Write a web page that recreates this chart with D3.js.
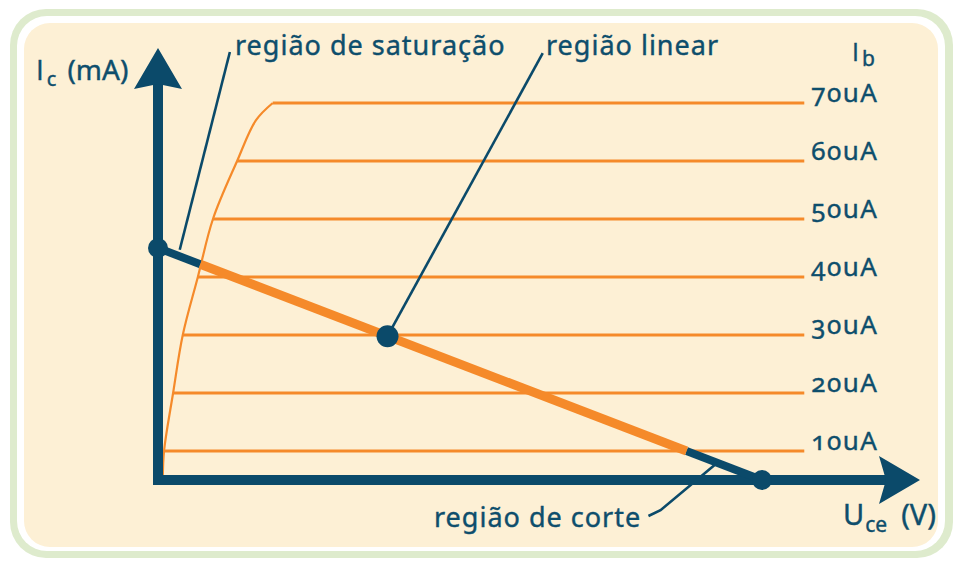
<!DOCTYPE html>
<html>
<head>
<meta charset="utf-8">
<script src="https://cdn.jsdelivr.net/npm/d3@7/dist/d3.min.js"></script>
<style>
  html, body { margin: 0; padding: 0; background: #ffffff; }
  svg { display: block; }
  text { font-family: "Noto Sans", "Open Sans", sans-serif; fill: #0e4e6c; stroke: #0e4e6c; stroke-width: 0.4px; font-variant-numeric: oldstyle-nums; font-feature-settings: "onum" 1; }
  .cap { font-family: "Open Sans", "Noto Sans", sans-serif; }
</style>
</head>
<body>
<script>
// ---- data ----
const ibLabels = ["10uA", "20uA", "30uA", "40uA", "50uA", "60uA", "70uA"];
const icLevels = [0.5, 1.5, 2.5, 3.5, 4.5, 5.5, 6.5];          // mA
const kneeUce  = [0.10, 0.25, 0.41, 0.66, 0.91, 1.31, 1.90];   // V, where each Ib curve flattens
const lineEndUce = 10.7;                                        // V
// saturation envelope (Uce V, Ic mA)
const envelope = [[0.08, 0.05], [0.10, 0.5], [0.25, 1.5], [0.41, 2.5], [0.66, 3.5],
                  [0.91, 4.5], [1.31, 5.5], [1.62, 6.2], [1.90, 6.5]];
// load line
const vcc = 10;          // V  (cut-off point)
const icSat = 4;         // mA (saturation point)
const loadDarkEnd = 0.7; // V, end of dark saturation part
const loadOrangeEnd = 8.75; // V, end of orange linear part
const qPoint = { uce: 3.8, ic: 2.48 };

// ---- layout ----
const W = 954, H = 561;
const svg = d3.select("body").append("svg").attr("width", W).attr("height", H);

const x = d3.scaleLinear().domain([0, 10]).range([158, 762]);
const y = d3.scaleLinear().domain([0, 1]).range([480, 422]);

const dark = "#0b4a6a", orange = "#f58a2a";

// frame
svg.append("rect").attr("x", 10).attr("y", 9).attr("width", 943).attr("height", 549)
  .attr("rx", 36).attr("fill", "#deebcd");
svg.append("rect").attr("x", 17).attr("y", 16).attr("width", 928).attr("height", 535)
  .attr("rx", 30).attr("fill", "#ffffff");
svg.append("rect").attr("x", 24).attr("y", 23).attr("width", 914).attr("height", 524)
  .attr("rx", 26).attr("fill", "#fdf0d5");

// Ib characteristic lines
const g = svg.append("g");
g.selectAll("line.ib").data(icLevels).join("line")
  .attr("x1", (d, i) => x(kneeUce[i])).attr("x2", x(lineEndUce))
  .attr("y1", d => y(d)).attr("y2", d => y(d))
  .attr("stroke", orange).attr("stroke-width", 3);

g.append("path").datum(envelope)
  .attr("d", d3.line().x(d => x(d[0])).y(d => y(d[1])).curve(d3.curveCatmullRom.alpha(0.5)))
  .attr("fill", "none").attr("stroke", orange).attr("stroke-width", 2.2);

// labels for Ib
g.selectAll("text.ib").data(icLevels).join("text")
  .attr("x", x(lineEndUce) + 7).attr("y", d => y(d) - 1)
  .attr("font-size", 26).attr("letter-spacing", 1.5).text((d, i) => ibLabels[i]);

// axes
const axisW = 10;
svg.append("line").attr("x1", x(0)).attr("x2", x(0))
  .attr("y1", y(0) + axisW / 2).attr("y2", 82)
  .attr("stroke", dark).attr("stroke-width", axisW);
svg.append("path")
  .attr("d", `M${x(0)},48 L${x(0) + 24},89 L${x(0)},84 L${x(0) - 24},89 Z`)
  .attr("fill", dark);
svg.append("line").attr("x1", x(0) - axisW / 2).attr("x2", 886)
  .attr("y1", y(0)).attr("y2", y(0))
  .attr("stroke", dark).attr("stroke-width", axisW);
svg.append("path")
  .attr("d", `M920,${y(0)} L879,${y(0) - 24} L886,${y(0)} L879,${y(0) + 24} Z`)
  .attr("fill", dark);

// load line
const load = u => icSat * (1 - u / vcc);
const seg = (a, b) => [[a, load(a)], [b, load(b)]];
const ll = d3.line().x(d => x(d[0])).y(d => y(d[1]));
svg.append("path").attr("d", ll(seg(0, loadDarkEnd)))
  .attr("stroke", dark).attr("stroke-width", 8).attr("fill", "none");
svg.append("path").attr("d", ll(seg(loadOrangeEnd, vcc)))
  .attr("stroke", dark).attr("stroke-width", 8).attr("fill", "none");
svg.append("path").attr("d", ll(seg(loadDarkEnd, loadOrangeEnd)))
  .attr("stroke", orange).attr("stroke-width", 9).attr("fill", "none");

// leader lines
const leaders = [
  [[1.19, 7.38], [0.36, 3.97]],
  [[6.37, 7.36], [qPoint.uce, qPoint.ic]],
  [[8.12, -0.62], [8.32, -0.52], [9.25, 0.29]]
];
svg.selectAll("path.leader").data(leaders).join("path")
  .attr("d", d => ll(d)).attr("fill", "none")
  .attr("stroke", dark).attr("stroke-width", 2.6);

// points
svg.append("circle").attr("cx", x(0)).attr("cy", y(icSat)).attr("r", 10).attr("fill", dark);
svg.append("circle").attr("cx", x(vcc)).attr("cy", y(0)).attr("r", 10).attr("fill", dark);
svg.append("circle").attr("cx", x(qPoint.uce)).attr("cy", y(qPoint.ic)).attr("r", 11).attr("fill", dark);

// texts
const t1 = svg.append("text").attr("x", 36).attr("y", 80).attr("font-size", 28);
t1.append("tspan").attr("class", "cap").text("I");
t1.append("tspan").attr("font-size", 20).attr("dy", 6).attr("dx", 3).text("c");
t1.append("tspan").attr("dy", -6).attr("dx", 11).text("(mA)");

const t2 = svg.append("text").attr("x", 852).attr("y", 61).attr("font-size", 25);
t2.append("tspan").attr("class", "cap").text("I");
t2.append("tspan").attr("font-size", 21).attr("dy", 5).attr("dx", 3).text("b");

const t3 = svg.append("text").attr("x", 843).attr("y", 525).attr("font-size", 29);
t3.append("tspan").text("U");
t3.append("tspan").attr("font-size", 21).attr("dy", 7).attr("dx", 1).text("ce");
t3.append("tspan").attr("dy", -7).attr("dx", 14).text("(V)");

const reg = { size: 27, ls: 1 };
svg.append("text").attr("x", 235).attr("y", 55).attr("font-size", reg.size).attr("letter-spacing", reg.ls).text("região de saturação");
svg.append("text").attr("x", 546).attr("y", 55).attr("font-size", reg.size).attr("letter-spacing", reg.ls).text("região linear");
svg.append("text").attr("x", 434).attr("y", 527).attr("font-size", reg.size).attr("letter-spacing", reg.ls).text("região de corte");
</script>
</body>
</html>
